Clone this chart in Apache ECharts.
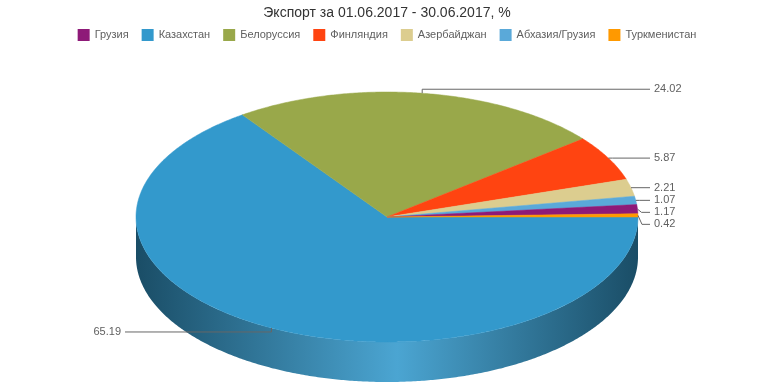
<!DOCTYPE html>
<html>
<head>
<meta charset="utf-8">
<script src="https://cdn.jsdelivr.net/npm/echarts@6/dist/echarts.min.js"></script>
<style>html,body{margin:0;padding:0;background:#fff}#c{width:774px;height:387px}</style>
</head>
<body>
<div id="c"></div>
<script>
// ---- data ----
const categories = ['Казахстан', 'Белоруссия', 'Финляндия', 'Азербайджан', 'Абхазия/Грузия', 'Грузия', 'Туркменистан'];
const values = [65.19, 24.02, 5.87, 2.21, 1.07, 1.17, 0.42];
const colors = ['#3399cc', '#99a84a', '#ff4411', '#dccd8f', '#5aa9d9', '#8e1a78', '#ff9900'];
const legendOrder = ['Грузия', 'Казахстан', 'Белоруссия', 'Финляндия', 'Азербайджан', 'Абхазия/Грузия', 'Туркменистан'];
const titleText = 'Экспорт за 01.06.2017 - 30.06.2017, %';

// ---- geometry ----
const CX = 387, CY = 217, RX = 251, RY = 125, DEPTH = 40;
const FONT = '"Liberation Sans", Arial, Helvetica, sans-serif';

function shade(hex, f) {
  const n = parseInt(hex.slice(1), 16);
  let r = (n >> 16) & 255, g = (n >> 8) & 255, b = n & 255;
  if (f < 0) { r *= 1 + f; g *= 1 + f; b *= 1 + f; }
  else { r += (255 - r) * f; g += (255 - g) * f; b += (255 - b) * f; }
  return 'rgb(' + Math.round(r) + ',' + Math.round(g) + ',' + Math.round(b) + ')';
}

const total = values.reduce((a, b) => a + b, 0);
let acc = 0;
const slices = values.map((v, i) => {
  const a1 = acc / total * Math.PI * 2;
  acc += v;
  const a2 = acc / total * Math.PI * 2;
  const m = (a1 + a2) / 2;
  const px = CX + RX * Math.cos(m), py = CY + RY * Math.sin(m);
  return { a1, a2, m, px, py, right: Math.cos(m) >= 0, ly: py, v };
});
// label y: pushed slightly outward vertically, then dodged
slices.forEach(s => { s.ly = s.py + 4 * Math.sign(Math.sin(s.m)) * (Math.abs(Math.sin(s.m)) > 0.6 ? 1 : 0); });
['right', 'left'].forEach(side => {
  const arr = slices.filter(s => (side === 'right') === s.right).sort((a, b) => a.py - b.py);
  let prev = -1e9;
  arr.forEach(s => { s.ly = Math.max(s.ly, prev + 12); prev = s.ly; });
});

function arcPts(a1, a2, dy, reverse) {
  const n = Math.max(2, Math.ceil((a2 - a1) / (Math.PI / 360)));
  const pts = [];
  for (let k = 0; k <= n; k++) {
    const a = a1 + (a2 - a1) * k / n;
    pts.push([CX + RX * Math.cos(a), CY + dy + RY * Math.sin(a)]);
  }
  return reverse ? pts.reverse() : pts;
}

function renderItem(params, api) {
  const i = params.seriesIndex;
  const s = slices[i];
  const col = colors[i];
  const children = [];
  // front wall (visible half: 0..PI)
  const w1 = Math.max(s.a1, 0), w2 = Math.min(s.a2, Math.PI);
  if (w2 > w1) {
    const pts = arcPts(w1, w2, 0, false).concat(arcPts(w1, w2, DEPTH, true));
    children.push({
      type: 'polygon', z2: 1,
      shape: { points: pts },
      style: {
        fill: new echarts.graphic.LinearGradient(CX - RX, 0, CX + RX, 0, [
          { offset: 0, color: shade(col, -0.5) },
          { offset: 0.52, color: shade(col, 0.12) },
          { offset: 1, color: shade(col, -0.5) }
        ], true),
        stroke: null
      }
    });
  }
  // top face
  const top = [[CX, CY]].concat(arcPts(s.a1, s.a2, 0, false));
  children.push({
    type: 'polygon', z2: 5,
    shape: { points: top },
    style: { fill: col, stroke: col, lineWidth: 0.5 }
  });
  // connector + label
  const dir = s.right ? 1 : -1;
  const lx = s.right ? CX + RX + 16 : CX - RX - 15;
  const bend = Math.abs(s.ly - s.py) > 2 && Math.abs(Math.sin(s.m)) > 0.6 ? 0 : 4;
  children.push({
    type: 'polyline', z2: 8,
    shape: { points: [[s.px, s.py], [s.px + dir * bend, s.ly], [lx - dir * 4, s.ly]] },
    style: { stroke: '#666', lineWidth: 1, fill: null }
  });
  children.push({
    type: 'text', z2: 9,
    style: {
      text: s.v.toFixed(2), x: lx, y: s.ly,
      fill: '#606060', font: '11px ' + FONT,
      textAlign: s.right ? 'left' : 'right', textVerticalAlign: 'middle'
    }
  });
  return { type: 'group', children };
}

const chart = echarts.init(document.getElementById('c'), null, { renderer: 'canvas' });
chart.setOption({
  animation: false,
  title: {
    text: titleText, left: 'center', top: 1,
    textStyle: { fontFamily: FONT, fontSize: 14, fontWeight: 'normal', color: '#333' }
  },
  legend: {
    data: legendOrder, top: 24, left: 'center',
    icon: 'rect', itemWidth: 12, itemHeight: 12, itemGap: 13,
    textStyle: { fontFamily: FONT, fontSize: 11, color: '#606060' },
    selectedMode: false
  },
  series: categories.map((name, i) => ({
    type: 'custom', name, coordinateSystem: 'none', silent: true,
    itemStyle: { color: colors[i] },
    data: [[i]],
    renderItem
  }))
});
</script>
</body>
</html>
